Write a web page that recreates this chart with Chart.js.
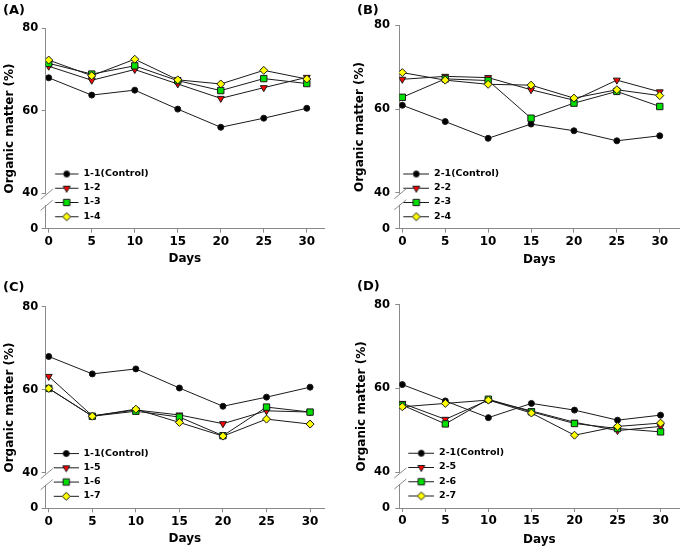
<!DOCTYPE html>
<html>
<head>
  <meta charset="utf-8">
  <title>Organic matter</title>
  <script src="https://cdn.jsdelivr.net/npm/chart.js"></script>
  <style>
    body { margin:0; background:#fff; }
    #wrap { position:relative; width:685px; height:551px; overflow:hidden; }
    canvas { position:absolute; }
  </style>
</head>
<body>
  <div id="wrap">
    <canvas id="cA" width="342" height="270" style="left:0;top:0"></canvas>
    <canvas id="cB" width="343" height="270" style="left:342px;top:0"></canvas>
    <canvas id="cC" width="342" height="281" style="left:0;top:270px"></canvas>
    <canvas id="cD" width="343" height="281" style="left:342px;top:270px"></canvas>
  </div>

  <script>
    // sampling days
    const days = [0, 5, 10, 15, 20, 25, 30];
    // y ticks above the axis break; the bottom of the axis stands for 0
    const yTicks = [40, 60, 80];
    const yBreakMin = 31.4;

    // organic matter (%)
    const control1 = [68.0, 63.8, 65.0, 60.4, 56.0, 58.2, 60.6];
    const om12 = [70.8, 67.4, 70.0, 66.5, 63.0, 65.6, 68.1];
    const om13 = [71.5, 68.9, 70.9, 67.3, 64.9, 67.8, 66.6];
    const om14 = [72.3, 68.5, 72.5, 67.5, 66.5, 69.8, 67.7];

    const control2 = [60.9, 57.0, 53.0, 56.4, 54.8, 52.4, 53.6];
    const om22 = [67.1, 67.8, 67.5, 64.6, 62.1, 66.9, 64.1];
    const om23 = [62.8, 67.2, 66.8, 57.8, 61.4, 64.2, 60.6];
    const om24 = [68.7, 66.9, 65.9, 65.7, 62.6, 64.6, 63.2];

    const om15 = [63.2, 53.7, 55.1, 53.9, 51.8, 54.9, 54.6];
    const om16 = [60.3, 53.6, 54.8, 53.4, 48.9, 55.8, 54.6];
    const om17 = [60.3, 53.6, 55.3, 52.1, 48.8, 52.9, 51.7];

    const om25 = [56.4, 52.6, 57.2, 54.6, 51.9, 49.9, 50.9];
    const om26 = [56.0, 51.5, 57.4, 54.4, 51.6, 50.4, 49.6];
    const om27 = [55.6, 56.4, 57.2, 54.1, 48.8, 50.9, 51.7];

    const lineColor = '#1a1a1a';
    const axisColor = '#8a8a8a';
    const fontFamily = '"DejaVu Sans", sans-serif';
    const styles = [
      { color:'#000000', shape:'circle',   radius:3,   rotation:0 },
      { color:'#ff0000', shape:'triangle', radius:4,   rotation:180 },
      { color:'#00e000', shape:'rect',     radius:4.5, rotation:0 },
      { color:'#ffff00', shape:'rectRot',  radius:4,   rotation:0 }
    ];

    const panels = [
      { id:'cA', tag:'(A)', names:['1-1(Control)','1-2','1-3','1-4'], series:[control1, om12, om13, om14],
        w:342, h:270, area:{left:45.7, top:28.3, right:324, bottom:228.7}, xMax:32,
        yTitlePad:2.8, xTitlePad:3.8, yLabelPad:3.4, tagPos:[3,10.5], leg:{l0:9.3, l1:32.6, text:37.6} },
      { id:'cB', tag:'(B)', names:['2-1(Control)','2-2','2-3','2-4'], series:[control2, om22, om23, om24],
        w:343, h:270, area:{left:57.3, top:25.3, right:343, bottom:228.7}, xMax:32.3,
        yTitlePad:10.8, xTitlePad:2.8, yLabelPad:5.3, tagPos:[15,11], leg:{l0:4, l1:30, text:34.7} },
      { id:'cC', tag:'(C)', names:['1-1(Control)','1-5','1-6','1-7'], series:[control1, om15, om16, om17],
        w:342, h:281, area:{left:45.7, top:36.7, right:324, bottom:238.3}, xMax:31.6,
        yTitlePad:2.8, xTitlePad:4.5, yLabelPad:3.4, tagPos:[3,17.5], leg:{l0:8, l1:33, text:37.6} },
      { id:'cD', tag:'(D)', names:['2-1(Control)','2-5','2-6','2-7'], series:[control2, om25, om26, om27],
        w:343, h:281, area:{left:57.3, top:34.7, right:343, bottom:238}, xMax:32.2,
        yTitlePad:12.5, xTitlePad:3.8, yLabelPad:5.3, tagPos:[15,16.5], leg:{l0:9, l1:35, text:40} }
    ];

    const legendFont = 9.5;
    const legendPad = 4.75;

    function drawMarker(g, st, x, y) {
      g.fillStyle = st.color;
      g.strokeStyle = lineColor;
      g.lineWidth = 1;
      Chart.helpers.drawPoint(g, { pointStyle: st.shape, radius: st.radius, rotation: st.rotation, borderWidth: 1 }, x, y);
    }

    // line + marker swatch used as the legend point style
    function swatch(st, p) {
      const c = document.createElement('canvas');
      c.width = Math.round(p.text - legendFont / 2);
      c.height = 12;
      const g = c.getContext('2d');
      g.strokeStyle = lineColor; g.lineWidth = 1;
      g.beginPath(); g.moveTo(p.l0, 6.5); g.lineTo(p.l1, 6.5); g.stroke();
      drawMarker(g, st, (p.l0 + p.l1) / 2, 6.5);
      return c;
    }

    const breakPlugin = {
      id: 'axisBreak',
      afterLayout(chart) {
        // legend sits in the lower left corner of the plot
        const lg = chart.legend, a = chart.chartArea;
        const shift = 3;
        lg.left = a.left - legendPad;
        lg.top = a.top - shift;
        lg.bottom = a.bottom - shift;
      },
      afterDraw(chart) {
        const p = chart.options.plugins.axisBreak;
        const ctx = chart.ctx, a = chart.chartArea;
        const y40 = chart.scales.y.getPixelForValue(40);
        const ax = a.left;
        ctx.save();
        ctx.fillStyle = '#fff';
        ctx.fillRect(ax - 2, y40 + 1, 4, 11);
        ctx.strokeStyle = axisColor; ctx.lineWidth = 1;
        [y40 + 1, y40 + 12].forEach(yc => {
          ctx.beginPath(); ctx.moveTo(ax - 5, yc + 5); ctx.lineTo(ax + 7, yc - 5); ctx.stroke();
        });
        ctx.fillStyle = '#000';
        ctx.font = 'bold 13px ' + fontFamily;
        ctx.textBaseline = 'middle'; ctx.textAlign = 'left';
        ctx.fillText(p.tag, p.tagPos[0], p.tagPos[1]);
        ctx.restore();
      }
    };

    panels.forEach(p => {
      const ctx = document.getElementById(p.id).getContext('2d');
      const swatches = styles.map(st => swatch(st, p.leg));
      new Chart(ctx, {
        type: 'line',
        data: {
          datasets: p.series.map((vals, i) => ({
            label: p.names[i],
            data: days.map((d, k) => ({ x: d, y: vals[k] })),
            borderColor: lineColor,
            borderWidth: 1,
            backgroundColor: styles[i].color,
            pointBackgroundColor: styles[i].color,
            pointBorderColor: lineColor,
            pointBorderWidth: 1,
            pointStyle: styles[i].shape,
            pointRadius: styles[i].radius,
            pointRotation: styles[i].rotation,
            tension: 0,
            order: 3 - i
          }))
        },
        options: {
          responsive: false,
          animation: false,
          devicePixelRatio: 1,
          layout: { padding: { left: 0, top: p.area.top, right: p.w - p.area.right, bottom: 0 } },
          plugins: {
            tooltip: { enabled: false },
            axisBreak: { tag: p.tag, tagPos: p.tagPos },
            legend: {
              position: 'chartArea',
              align: 'end',
              labels: {
                usePointStyle: true,
                pointStyleWidth: Math.round(p.leg.text - legendFont / 2),
                padding: legendPad,
                color: '#000',
                font: { family: fontFamily, size: legendFont, weight: 'bold' },
                sort: (a, b) => a.datasetIndex - b.datasetIndex,
                generateLabels(chart) {
                  return chart.data.datasets.map((ds, i) => ({
                    text: ds.label, datasetIndex: i, pointStyle: swatches[i],
                    fillStyle: ds.backgroundColor, strokeStyle: lineColor, lineWidth: 1, hidden: false
                  }));
                }
              }
            }
          },
          scales: {
            x: {
              type: 'linear',
              min: -0.35,
              max: p.xMax,
              afterBuildTicks: s => { s.ticks = days.map(v => ({ value: v })); },
              afterFit: s => { s.height = p.h - p.area.bottom; },
              grid: { drawOnChartArea: false, drawTicks: true, tickLength: 4, color: axisColor },
              border: { display: true, color: axisColor, width: 1 },
              ticks: { color: '#000', padding: 2, maxRotation: 0, font: { family: fontFamily, size: 12, weight: 'bold' } },
              title: { display: true, text: 'Days', color: '#000', padding: { top: 0, bottom: p.xTitlePad },
                       font: { family: fontFamily, size: 12, weight: 'bold' } }
            },
            y: {
              type: 'linear',
              min: yBreakMin,
              max: 80,
              afterBuildTicks: s => { s.ticks = [yBreakMin].concat(yTicks).map(v => ({ value: v })); },
              afterFit: s => { s.width = p.area.left; },
              grid: { drawOnChartArea: false, drawTicks: true, tickLength: 4, color: axisColor },
              border: { display: true, color: axisColor, width: 1 },
              ticks: {
                color: '#000', padding: p.yLabelPad,
                font: { family: fontFamily, size: 11.5, weight: 'bold' },
                callback: v => (v === yBreakMin ? '0' : v)
              },
              title: { display: true, text: 'Organic matter (%)', color: '#000', padding: { top: p.yTitlePad, bottom: 0 },
                       font: { family: fontFamily, size: 12, weight: 'bold' } }
            }
          }
        },
        plugins: [breakPlugin]
      });
    });
  </script>
</body>
</html>
